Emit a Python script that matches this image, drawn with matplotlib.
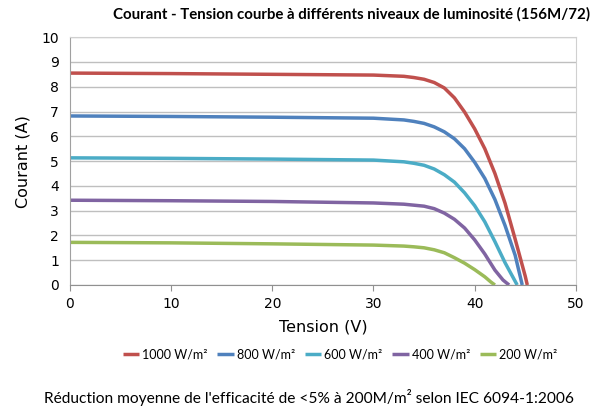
import matplotlib.pyplot as plt

# Courbes I-V
v_1000 = [0, 10, 20, 30, 33, 34, 35, 36, 37, 38, 39, 40, 41, 42, 43, 44, 45, 45.2]
i_1000 = [8.55, 8.53, 8.5, 8.47, 8.42, 8.37, 8.3, 8.17, 7.95, 7.55, 6.98, 6.3, 5.5, 4.5, 3.3, 1.85, 0.35, 0]

v_800 = [0, 10, 20, 30, 33, 34, 35, 36, 37, 38, 39, 40, 41, 42, 43, 44, 44.7]
i_800 = [6.82, 6.8, 6.77, 6.73, 6.66, 6.6, 6.52, 6.38, 6.18, 5.9, 5.5, 4.95, 4.3, 3.45, 2.4, 1.2, 0]

v_600 = [0, 10, 20, 30, 33, 34, 35, 36, 37, 38, 39, 40, 41, 42, 43, 44, 44.2]
i_600 = [5.13, 5.11, 5.08, 5.04, 4.97, 4.91, 4.83, 4.68, 4.45, 4.15, 3.72, 3.2, 2.55, 1.75, 0.9, 0.15, 0]

v_400 = [0, 10, 20, 30, 33, 34, 35, 36, 37, 38, 39, 40, 41, 42, 42.8, 43.4]
i_400 = [3.42, 3.4, 3.37, 3.31, 3.26, 3.22, 3.18, 3.08, 2.9, 2.65, 2.3, 1.82, 1.25, 0.6, 0.2, 0]

v_200 = [0, 10, 20, 30, 33, 34, 35, 36, 37, 38, 39, 40, 41, 41.6, 42]
i_200 = [1.72, 1.7, 1.66, 1.61, 1.57, 1.54, 1.5, 1.42, 1.3, 1.1, 0.88, 0.62, 0.33, 0.12, 0]

labels = ["1000 W/m²", "800 W/m²", "600 W/m²", "400 W/m²", "200 W/m²"]
colors = ["#C0504D", "#4F81BD", "#4BACC6", "#8064A2", "#9BBB59"]
series = [(v_1000, i_1000), (v_800, i_800), (v_600, i_600), (v_400, i_400), (v_200, i_200)]

fig = plt.figure(figsize=(6.03, 4.11), dpi=100)
ax = fig.add_axes([0.116, 0.3066, 0.839, 0.603])

for (v, i), lab, col in zip(series, labels, colors):
    ax.plot(v, i, color=col, lw=2.5, label=lab, solid_joinstyle="round", solid_capstyle="butt")

ax.set_xlim(0, 50)
ax.set_ylim(0, 10)
ax.set_xticks(range(0, 51, 10))
ax.set_yticks(range(0, 11))
ax.yaxis.grid(True, color="#BFBFBF", lw=1)
ax.set_axisbelow(True)
for s in ["top", "right"]:
    ax.spines[s].set_color("#D0D0D0")
ax.spines["left"].set_color("#A0A0A0")
ax.spines["bottom"].set_color("#909090")
ax.tick_params(axis="y", length=0, pad=8, labelsize=10)
ax.tick_params(axis="x", length=4, color="#909090", pad=5, labelsize=10)

ax.set_xlabel("Tension (V)", fontsize=11.5, labelpad=6)
ax.set_ylabel("Courant (A)", fontsize=11.5, labelpad=8)

fig.text(0.583, 0.965, "Courant - Tension courbe à différents niveaux de luminosité (156M/72)",
         ha="center", va="center", fontsize=10.8, fontweight="bold", family="Lato")

fig.legend(loc="center", bbox_to_anchor=(0.564, 0.137), ncol=5, frameon=False,
           prop={"family": "Lato", "size": 9}, handlelength=1.3, handletextpad=0.25,
           columnspacing=0.8)

fig.text(0.512, 0.032, "Réduction moyenne de l'efficacité de <5% à 200M/m² selon IEC 6094-1:2006",
         ha="center", va="center", fontsize=11.2, family="Lato")

fig.savefig("out.png", dpi=100)
